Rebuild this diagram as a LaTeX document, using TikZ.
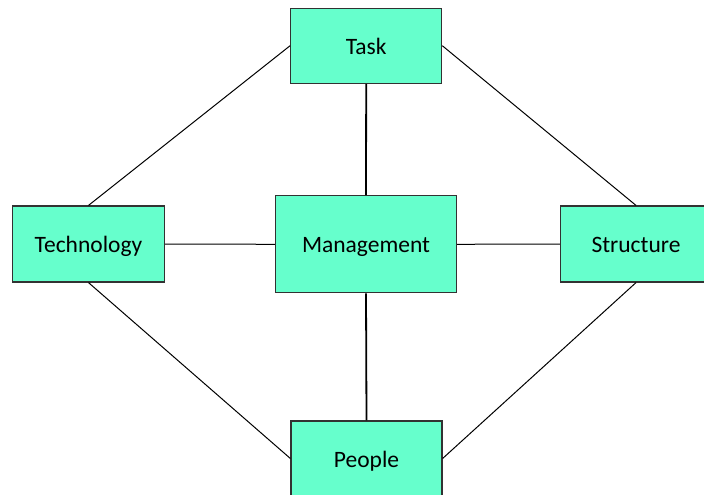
\documentclass[tikz,border=0pt]{standalone}
\usepackage{fontspec}
\setmainfont{Carlito}
\definecolor{boxfill}{RGB}{102,255,204}
\definecolor{boxline}{RGB}{50,50,50}
\begin{document}
\begin{tikzpicture}[x=1pt,y=-1pt,
  box/.style={draw=boxline,line width=1.2pt,fill=boxfill,rectangle,inner sep=0pt,
    font=\fontsize{23.5}{27}\selectfont,text=black,text height=17pt,text depth=0pt},
  link/.style={draw=black,line width=1pt},
  vlink/.style={draw=black,line width=1.8pt}]
\useasboundingbox (0,0) rectangle (704,495);
\clip (0,0) rectangle (704,495);
\node[box,minimum width=151pt,minimum height=75pt] (task) at (366.2,45.7) {Task};
\node[box,minimum width=152pt,minimum height=76pt] (tech) at (88.5,244) {Technology};
\node[box,minimum width=181pt,minimum height=97pt] (mgmt) at (366,244.3) {Management};
\node[box,minimum width=151pt,minimum height=76pt] (struct) at (636,244) {Structure};
\node[box,minimum width=151pt,minimum height=75pt] (people) at (366.5,458.5) {People};
\draw[link] (task.west) -- (tech.north);
\draw[link] (task.east) -- (struct.north);
\draw[link] (tech.south) -- (people.west);
\draw[link] (struct.south) -- (people.east);
\draw[link] (tech.east) -- (mgmt.west);
\draw[link] (mgmt.east) -- (struct.west);
\draw[vlink] (task.south) -- (mgmt.north);
\draw[vlink] (mgmt.south) -- (people.north);
\end{tikzpicture}
\end{document}
